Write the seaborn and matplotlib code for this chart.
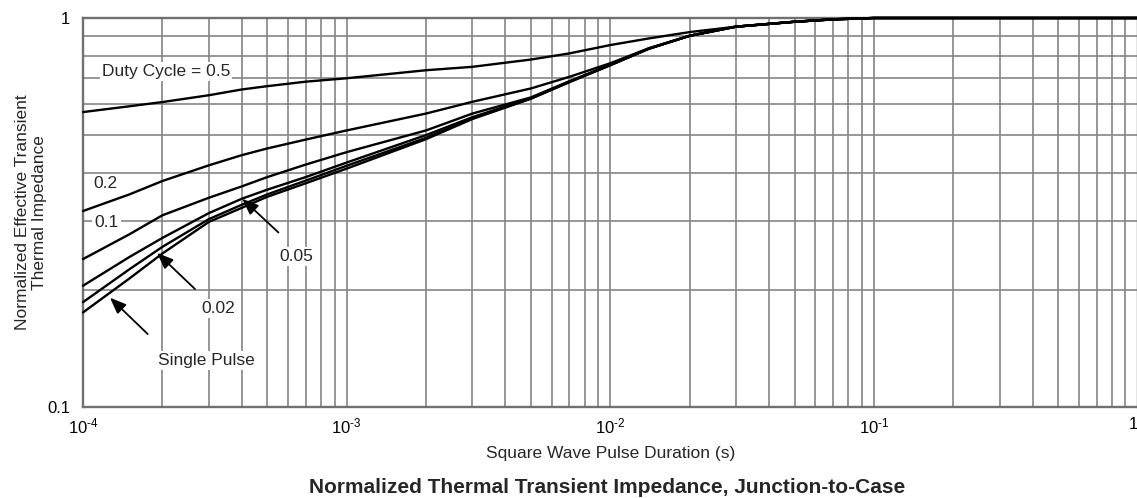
import numpy as np
import pandas as pd
import seaborn as sns
import matplotlib
matplotlib.use("Agg")
import matplotlib.pyplot as plt
from matplotlib.ticker import FixedLocator, FixedFormatter, NullFormatter, LogLocator

# Pulse durations (s) at which the curves are sampled
pulse_time = [1e-4, 1.5e-4, 2e-4, 3e-4, 4e-4, 5e-4, 7e-4, 1e-3, 2e-3, 3e-3,
              5e-3, 7e-3, 1e-2, 1.4e-2, 2e-2, 3e-2, 5e-2, 7e-2, 1e-1, 1.0]

# Normalized effective transient thermal impedance per duty cycle
z_duty_050 = [0.573, 0.593, 0.608, 0.633, 0.655, 0.668, 0.686, 0.700, 0.734, 0.749,
              0.782, 0.811, 0.852, 0.886, 0.920, 0.950, 0.978, 0.992, 1.000, 1.000]
z_duty_020 = [0.319, 0.352, 0.381, 0.418, 0.444, 0.462, 0.487, 0.514, 0.568, 0.609,
              0.659, 0.706, 0.765, 0.836, 0.900, 0.950, 0.978, 0.992, 1.000, 1.000]
z_duty_010 = [0.240, 0.278, 0.311, 0.345, 0.369, 0.390, 0.420, 0.452, 0.514, 0.568,
              0.625, 0.688, 0.758, 0.835, 0.900, 0.950, 0.978, 0.992, 1.000, 1.000]
z_duty_005 = [0.205, 0.243, 0.272, 0.315, 0.343, 0.362, 0.390, 0.425, 0.500, 0.556,
              0.622, 0.686, 0.757, 0.834, 0.900, 0.950, 0.978, 0.992, 1.000, 1.000]
z_duty_002 = [0.186, 0.226, 0.258, 0.304, 0.331, 0.352, 0.382, 0.417, 0.492, 0.552,
              0.621, 0.685, 0.757, 0.834, 0.900, 0.950, 0.978, 0.992, 1.000, 1.000]
z_single   = [0.175, 0.214, 0.248, 0.299, 0.325, 0.347, 0.376, 0.410, 0.488, 0.550,
              0.620, 0.684, 0.756, 0.833, 0.900, 0.950, 0.978, 0.992, 1.000, 1.000]

curve_names = ["0.5", "0.2", "0.1", "0.05", "0.02", "Single Pulse"]
curve_values = [z_duty_050, z_duty_020, z_duty_010, z_duty_005, z_duty_002, z_single]

x_ticks = [1e-4, 1e-3, 1e-2, 1e-1, 1.0]
x_tick_labels = [r"$10^{\text{-}4}$", r"$10^{\text{-}3}$", r"$10^{\text{-}2}$",
                 r"$10^{\text{-}1}$", "1"]
y_ticks = [0.1, 1.0]
y_tick_labels = ["0.1", "1"]

df = pd.concat(
    [pd.DataFrame({"t": pulse_time, "z": vals, "curve": name})
     for name, vals in zip(curve_names, curve_values)],
    ignore_index=True,
)

sns.set_style("white")
plt.rcParams["font.family"] = ["Liberation Sans", "DejaVu Sans"]
plt.rcParams["mathtext.fontset"] = "custom"
plt.rcParams["mathtext.rm"] = "Liberation Sans"
plt.rcParams["mathtext.default"] = "regular"

W, H = 1137, 498
fig = plt.figure(figsize=(W / 100, H / 100), dpi=100)
ax = fig.add_axes([83 / W, 1 - 407 / H, (1137.5 - 83) / W, (407 - 18) / H])

ax.set_xscale("log")
ax.set_yscale("log")
ax.set_xlim(1e-4, 1.0)
ax.set_ylim(0.1, 1.0)

grid_color = "#858585"
ax.xaxis.set_minor_locator(LogLocator(base=10, subs=np.arange(2, 10)))
ax.yaxis.set_minor_locator(FixedLocator(np.arange(0.2, 1.0, 0.1)))
ax.xaxis.set_major_locator(FixedLocator(x_ticks))
ax.xaxis.set_major_formatter(FixedFormatter(x_tick_labels))
ax.yaxis.set_major_locator(FixedLocator(y_ticks))
ax.yaxis.set_major_formatter(FixedFormatter(y_tick_labels))
ax.xaxis.set_minor_formatter(NullFormatter())
ax.yaxis.set_minor_formatter(NullFormatter())
ax.grid(True, which="both", color=grid_color, lw=1.2)
ax.set_axisbelow(True)
ax.tick_params(which="both", length=0, labelsize=12, colors="black")
ax.tick_params(axis="x", pad=7)
ax.tick_params(axis="y", pad=9)
for side, sp in ax.spines.items():
    sp.set_color("#707070")
    sp.set_linewidth(1.7)

sns.lineplot(data=df, x="t", y="z", units="curve", estimator=None,
             color="black", lw=1.7, sort=False, ax=ax, legend=False)
for line in ax.get_lines():
    line.set_clip_on(False)
    line.set_zorder(3)
    line.set_solid_joinstyle("round")

# keep the last decade label inside the canvas
ax.get_xticklabels()[-1].set_horizontalalignment("right")

box = dict(facecolor="white", edgecolor="none", pad=1.5)
label_kw = dict(fontsize=12.5, bbox=box, zorder=4, va="center")
ax.text(1.18e-4, 0.727, "Duty Cycle = 0.5", ha="left", **label_kw)
ax.text(1.22e-4, 0.376, "0.2", ha="center", **label_kw)
ax.text(1.23e-4, 0.2985, "0.1", ha="center", **label_kw)
ax.text(6.43e-4, 0.2435, "0.05", ha="center", **label_kw)
ax.text(3.27e-4, 0.179, "0.02", ha="center", **label_kw)
ax.text(2.95e-4, 0.132, "Single Pulse", ha="center", **label_kw)

arrow_kw = dict(arrowstyle="-|>,head_length=0.7,head_width=0.28",
                color="black", lw=1.3, mutation_scale=14, shrinkA=0, shrinkB=0)
ax.annotate("", xy=(4.02e-4, 0.343), xytext=(5.51e-4, 0.281),
            arrowprops=arrow_kw, zorder=4)
ax.annotate("", xy=(1.91e-4, 0.249), xytext=(2.66e-4, 0.201),
            arrowprops=arrow_kw, zorder=4)
ax.annotate("", xy=(1.266e-4, 0.191), xytext=(1.76e-4, 0.154),
            arrowprops=arrow_kw, zorder=4)

ax.set_xlabel("Square Wave Pulse Duration (s)", fontsize=12.5)
ax.xaxis.set_label_coords(0.5, -0.10)
ax.set_ylabel("Normalized Effective Transient\nThermal Impedance",
              fontsize=12.5, linespacing=1.2)
ax.yaxis.set_label_coords(-0.034, 0.5)

fig.text(607 / W, 1 - 487 / H,
         "Normalized Thermal Transient Impedance, Junction-to-Case",
         ha="center", va="center", fontsize=15, fontweight="bold")

fig.savefig("out.png", dpi=100)
